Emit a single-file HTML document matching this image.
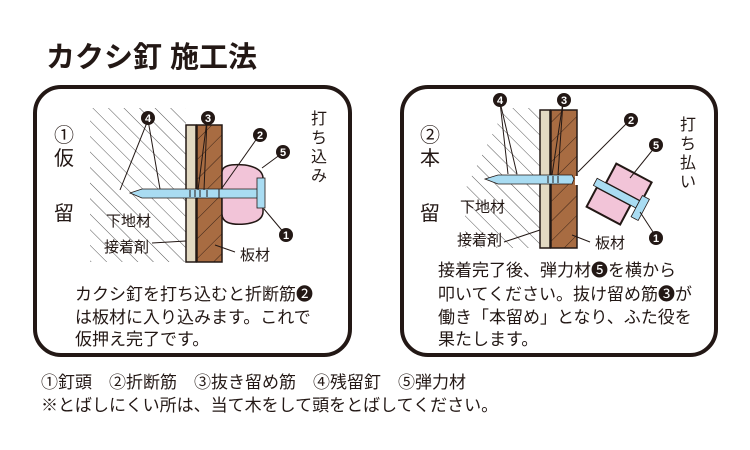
<!DOCTYPE html>
<html><head><meta charset="utf-8"><style>
body{margin:0;background:#fff;}
svg{display:block;font-family:"Liberation Sans","Noto Sans CJK JP",sans-serif;}
</style></head><body>
<svg width="750" height="450" viewBox="0 0 750 450" xmlns="http://www.w3.org/2000/svg">
<defs>
<pattern id="h" width="11" height="11" patternUnits="userSpaceOnUse" patternTransform="rotate(-45)">
<line x1="0" y1="0" x2="0" y2="11" stroke="#444" stroke-width="0.9"/>
</pattern>
<pattern id="w" width="14" height="14" patternUnits="userSpaceOnUse" patternTransform="rotate(45)">
<rect width="14" height="14" fill="#a86c42"/>
<line x1="0" y1="0" x2="0" y2="14" stroke="#3a2418" stroke-width="1"/>
</pattern>
</defs>
<text x="46" y="67" font-size="29" font-weight="bold" fill="#231815">カクシ釘 施工法</text>

<!-- panel 1 -->
<rect x="35" y="87" width="315" height="268" rx="26" fill="#fff" stroke="#231815" stroke-width="4"/>
<polygon points="90,108 186,108 186,262 90,262" fill="url(#h)"/>
<rect x="186" y="125" width="10" height="137" fill="#e2d9c2" stroke="#231815" stroke-width="1.5"/>
<rect x="197" y="125" width="25" height="137" fill="url(#w)" stroke="#231815" stroke-width="1.5"/>
<path d="M222,172 Q222,163 245,165 Q264,168 263,180 L263,210 Q264,222 245,224 Q222,226 222,214 Z" fill="#f2c4d8" stroke="#231815" stroke-width="1.5"/>
<polygon points="130,193 142,189 258,189 258,198 142,198" fill="#a9dcf2" stroke="#231815" stroke-width="0.8"/>
<rect x="257" y="178" width="8" height="30" fill="#a9dcf2" stroke="#231815" stroke-width="0.8"/>
<g stroke="#231815" stroke-width="1"><line x1="190" y1="190" x2="190" y2="197"/><line x1="195" y1="190" x2="195" y2="197"/><line x1="200" y1="190" x2="200" y2="197"/><line x1="207" y1="190" x2="207" y2="197"/><line x1="219" y1="189" x2="219" y2="198"/></g>
<g stroke="#231815" stroke-width="1" fill="none">
<line x1="148" y1="120" x2="160" y2="189"/><line x1="148" y1="120" x2="120" y2="190"/>
<line x1="207" y1="120" x2="204" y2="190"/><line x1="207" y1="120" x2="198" y2="190"/>
<line x1="258" y1="137" x2="222" y2="188"/>
<line x1="281" y1="154" x2="262" y2="168"/>
<line x1="285" y1="234" x2="264" y2="209"/>
<line x1="152" y1="243" x2="186" y2="241"/>
<line x1="235" y1="252" x2="215" y2="245"/>
</g>
<g font-size="11" font-weight="bold" fill="#fff" text-anchor="middle">
<circle cx="148" cy="118" r="7" fill="#231815"/><text x="148" y="122">4</text>
<circle cx="208" cy="118" r="7" fill="#231815"/><text x="208" y="122">3</text>
<circle cx="260" cy="135" r="7" fill="#231815"/><text x="260" y="139">2</text>
<circle cx="283" cy="152" r="7" fill="#231815"/><text x="283" y="156">5</text>
<circle cx="286" cy="235" r="7" fill="#231815"/><text x="286" y="239">1</text>
</g>
<g font-size="15" fill="#231815">
<text x="106" y="226">下地材</text>
<text x="104" y="252">接着剤</text>
<text x="240" y="260">板材</text>
</g>
<g font-size="20" fill="#231815" text-anchor="middle">
<text x="64" y="142">①</text><text x="64" y="165">仮</text><text x="64" y="220">留</text>
</g>
<g font-size="16" fill="#231815" text-anchor="middle">
<text x="319" y="124">打</text><text x="319" y="143">ち</text><text x="319" y="162">込</text><text x="319" y="181">み</text>
</g>
<g font-size="17" fill="#231815">
<text x="75" y="300">カクシ釘を打ち込むと折断筋❷</text>
<text x="75" y="323">は板材に入り込みます。これで</text>
<text x="75" y="345">仮押え完了です。</text>
</g>

<!-- panel 2 -->
<rect x="402" y="87" width="314" height="268" rx="26" fill="#fff" stroke="#231815" stroke-width="4"/>
<polygon points="505,108 540,108 540,248 465,248 465,190" fill="url(#h)"/>
<rect x="540" y="110" width="10" height="138" fill="#e2d9c2" stroke="#231815" stroke-width="1.5"/>
<rect x="551" y="110" width="26" height="138" fill="url(#w)" stroke="#231815" stroke-width="1.5"/>
<rect x="575" y="176" width="6" height="9" fill="#fff"/>
<polygon points="485,179 498,175 572,175 574,179 572,184 498,184" fill="#a9dcf2" stroke="#231815" stroke-width="0.8"/>
<g stroke="#231815" stroke-width="1"><line x1="548" y1="176" x2="548" y2="183"/><line x1="553" y1="176" x2="553" y2="183"/><line x1="558" y1="176" x2="558" y2="183"/></g>
<g transform="translate(620,195) rotate(28)">
<rect x="-18" y="-26" width="40" height="22" fill="#f2c4d8" stroke="#231815" stroke-width="2"/>
<rect x="-24" y="4" width="38" height="22" fill="#f2c4d8" stroke="#231815" stroke-width="2"/>
<rect x="-28" y="-4" width="48" height="8" fill="#a9dcf2" stroke="#231815" stroke-width="0.8"/>
<rect x="20" y="-10" width="8" height="24" fill="#a9dcf2" stroke="#231815" stroke-width="0.8"/>
</g>
<g stroke="#231815" stroke-width="1" fill="none">
<line x1="500" y1="102" x2="517" y2="174"/><line x1="500" y1="102" x2="508" y2="174"/>
<line x1="563" y1="102" x2="558" y2="175"/><line x1="563" y1="102" x2="552" y2="175"/>
<line x1="628" y1="122" x2="578" y2="172"/>
<line x1="655" y1="147" x2="630" y2="178"/>
<line x1="655" y1="235" x2="640" y2="212"/>
<line x1="504" y1="242" x2="540" y2="230"/>
<line x1="590" y1="242" x2="572" y2="235"/>
</g>
<g font-size="11" font-weight="bold" fill="#fff" text-anchor="middle">
<circle cx="500" cy="100" r="7" fill="#231815"/><text x="500" y="104">4</text>
<circle cx="564" cy="100" r="7" fill="#231815"/><text x="564" y="104">3</text>
<circle cx="631" cy="120" r="7" fill="#231815"/><text x="631" y="124">2</text>
<circle cx="656" cy="145" r="7" fill="#231815"/><text x="656" y="149">5</text>
<circle cx="656" cy="238" r="7" fill="#231815"/><text x="656" y="242">1</text>
</g>
<g font-size="15" fill="#231815">
<text x="460" y="212">下地材</text>
<text x="457" y="245">接着剤</text>
<text x="595" y="248">板材</text>
</g>
<g font-size="20" fill="#231815" text-anchor="middle">
<text x="430" y="142">②</text><text x="430" y="165">本</text><text x="430" y="220">留</text>
</g>
<g font-size="16" fill="#231815" text-anchor="middle">
<text x="688" y="130">打</text><text x="688" y="149">ち</text><text x="688" y="168">払</text><text x="688" y="187">い</text>
</g>
<g font-size="17" fill="#231815">
<text x="438" y="276">接着完了後、弾力材❺を横から</text>
<text x="438" y="300">叩いてください。抜け留め筋❸が</text>
<text x="438" y="323">働き「本留め」となり、ふた役を</text>
<text x="438" y="345">果たします。</text>
</g>

<g font-size="17" fill="#231815">
<text x="41" y="388">①釘頭　②折断筋　③抜き留め筋　④残留釘　⑤弾力材</text>
<text x="41" y="411">※とばしにくい所は、当て木をして頭をとばしてください。</text>
</g>
</svg>
</body></html>
